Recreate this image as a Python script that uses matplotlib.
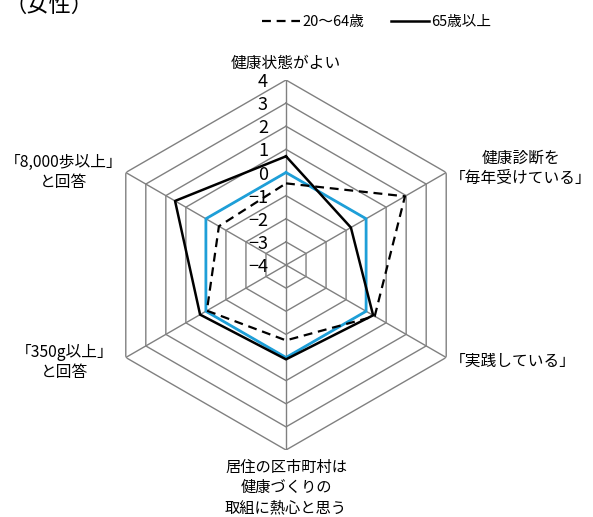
import numpy as np
import matplotlib
matplotlib.use("Agg")
import matplotlib.pyplot as plt

plt.rcParams['font.family'] = ['Noto Sans CJK JP', 'DejaVu Sans']

categories = ["健康状態がよい",
              "健康診断を\n「毎年受けている」",
              "「実践している」",
              "居住の区市町村は\n健康づくりの\n取組に熱心と思う",
              "「350g以上」\nと回答",
              "「8,000歩以上」\nと回答"]
age_20_64 = [-0.47, 1.94, 0.43, -0.74, -0.05, -0.65]
age_65_plus = [0.70, -0.76, 0.35, 0.08, 0.29, 1.54]
baseline = [0, 0, 0, 0, 0, 0]
ring_levels = [4, 3, 2, 1, 0, -1, -2, -3]
tick_labels = ["4", "3", "2", "1", "0", "−1", "−2", "−3", "−4"]
tick_values = [4, 3, 2, 1, 0, -1, -2, -3, -4]
series_labels = ["20〜64歳", "65歳以上"]

W, H = 593, 517
fig = plt.figure(figsize=(W / 100, H / 100), dpi=100)
cx, cy, R = 286, 265, 185
ax = fig.add_axes([(cx - R) / W, 1 - (cy + R) / H, 2 * R / W, 2 * R / H],
                  projection='polar')
ax.set_theta_offset(np.pi / 2)
ax.set_theta_direction(-1)
ax.set_ylim(-4, 4)
ax.grid(False)
ax.set_xticks([])
ax.set_yticks([])
ax.spines['polar'].set_visible(False)
ax.patch.set_visible(False)

n = len(categories)
theta = np.arange(n) * 2 * np.pi / n
theta_c = np.append(theta, theta[0])

grid_col = '#808080'
for lv in ring_levels:
    ax.plot(theta_c, [lv] * (n + 1), color=grid_col, lw=1.0, zorder=1)
for t in theta:
    ax.plot([t, t], [-4, 4], color=grid_col, lw=1.0, zorder=1)

def closed(v):
    return list(v) + [v[0]]

ax.plot(theta_c, closed(baseline), color='#1E9FD8', lw=2.0, zorder=3)
l1, = ax.plot(theta_c, closed(age_20_64), color='black', lw=1.6,
              linestyle=(0, (4, 2.6)), zorder=4)
l2, = ax.plot(theta_c, closed(age_65_plus), color='black', lw=1.8, zorder=5)

for lab, val in zip(tick_labels, tick_values):
    ax.annotate(lab, xy=(0, val), xytext=(-18, -2), textcoords='offset pixels',
                ha='right', va='center', fontsize=13, zorder=6)

fs = 11.3
ax.annotate(categories[0], xy=(theta[0], 4), xytext=(0, 17), textcoords='offset pixels',
            ha='center', va='center', fontsize=fs)
ax.annotate(categories[1], xy=(theta[1], 4), xytext=(4, 4), textcoords='offset pixels',
            ha='left', va='center', multialignment='center', fontsize=fs,
            linespacing=1.3)
ax.annotate(categories[2], xy=(theta[2], 4), xytext=(4, -4), textcoords='offset pixels',
            ha='left', va='center', multialignment='center', fontsize=fs)
ax.annotate(categories[3], xy=(theta[3], 4), xytext=(0, -9), textcoords='offset pixels',
            ha='center', va='top', multialignment='center', fontsize=11,
            linespacing=1.25)
ax.annotate(categories[4], xy=(theta[4], 4), xytext=(-12, -5), textcoords='offset pixels',
            ha='right', va='center', multialignment='center', fontsize=fs,
            linespacing=1.3)
ax.annotate(categories[5], xy=(theta[5], 4), xytext=(-3, 0), textcoords='offset pixels',
            ha='right', va='center', multialignment='center', fontsize=fs,
            linespacing=1.3)

fig.text(4 / W, 1 - 5 / H, "（女性）", ha='left', va='center', fontsize=16)

fig.legend([l1, l2], series_labels, ncol=2, loc='center left',
           bbox_to_anchor=(262 / W, 1 - 22 / H), frameon=False, fontsize=10.5,
           handlelength=2.6, handletextpad=0.15, columnspacing=1.85,
           borderaxespad=0, borderpad=0)

fig.savefig("out.png", dpi=100)
